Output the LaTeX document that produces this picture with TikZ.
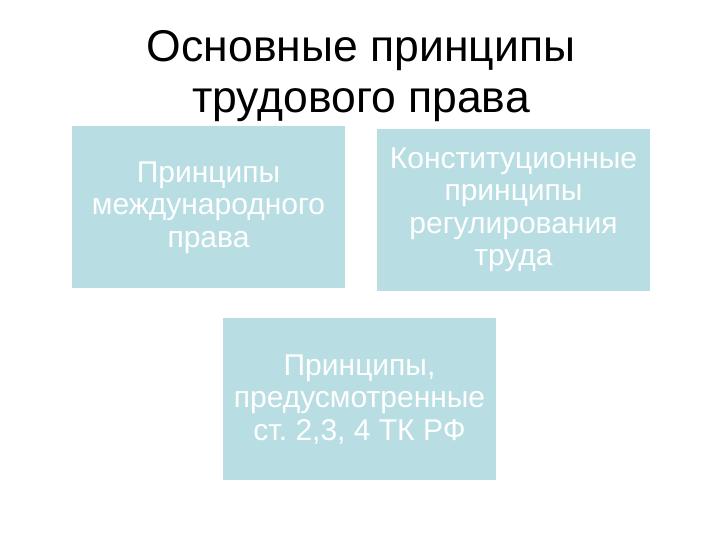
\documentclass[tikz,border=0pt]{standalone}
\usepackage{fontspec}
\setmainfont{Liberation Sans}
\frenchspacing
\definecolor{boxfill}{HTML}{B8DEE3}
\begin{document}
\begin{tikzpicture}[x=1pt,y=1pt,
  pbox/.style={fill=boxfill, draw=none, minimum width=273pt, minimum height=162pt, text=white, align=center, font=\fontsize{30}{32.5}\selectfont, inner sep=0pt}]
\useasboundingbox (0,0) rectangle (720,540);
\fill[white] (0,0) rectangle (720,540);
\node[align=center, font=\fontsize{44.5}{51}\selectfont] (title) at (361,464) {Основные принципы\\трудового права};
\node[pbox] (b1) at (208.5,332.5) {Принципы\\международного\\права};
\node[pbox] (b2) at (513.5,330) {Конституционные\\принципы\\регулирования\\труда};
\node[pbox] (b3) at (359.5,140.5) {Принципы,\\предусмотренные\\ст. 2,3, 4 ТК РФ};
\end{tikzpicture}
\end{document}
